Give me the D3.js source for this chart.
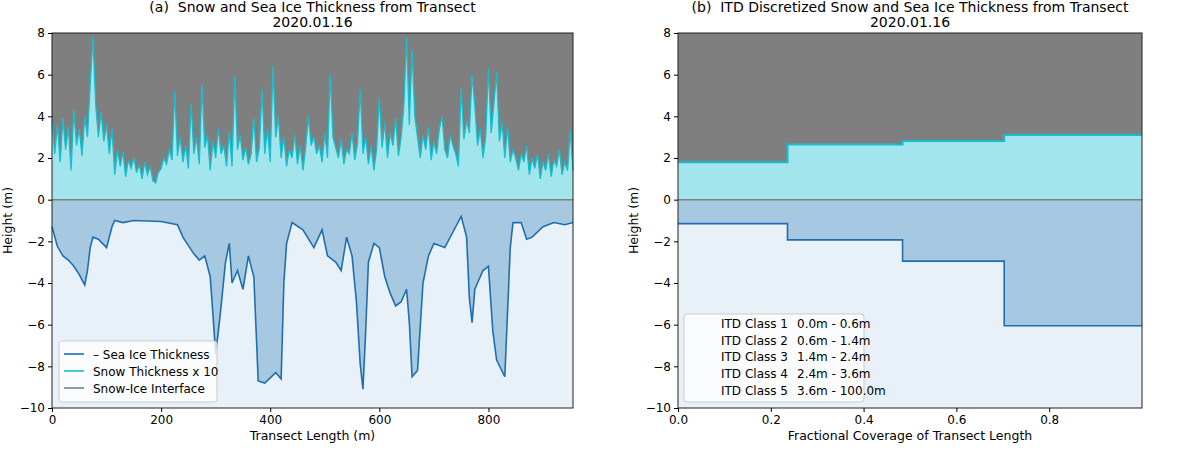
<!DOCTYPE html>
<html><head><meta charset="utf-8">
<script src="https://cdn.jsdelivr.net/npm/d3@7"></script>
<style>body{margin:0;background:#fff;font-family:"DejaVu Sans",sans-serif;}</style>
</head><body><svg id="c" width="1200" height="452"></svg>
<script>
// ---- Data ----
const iceX = [0,10,20,30,40,50,60,65,70,75,85,100,110,115,130,150,200,230,240,260,270,280,290,295,300,305,310,318,325,330,340,350,360,370,378,390,410,420,425,430,440,460,480,495,505,520,530,540,550,558,565,570,575,580,590,600,610,620,630,640,650,655,660,670,680,690,700,720,740,750,760,765,770,775,790,800,808,815,830,840,845,860,870,880,900,920,940,955];
const iceY = [-1.3,-2.25,-2.7,-2.9,-3.2,-3.6,-4.1,-3.4,-2.3,-1.8,-1.9,-2.3,-1.3,-1.0,-1.1,-1.0,-1.05,-1.2,-1.8,-2.6,-2.9,-2.7,-3.7,-5.5,-7.4,-6.3,-5.1,-3.0,-2.1,-4.0,-3.4,-4.3,-2.7,-3.7,-8.7,-8.8,-8.3,-8.6,-4.0,-2.1,-1.1,-1.45,-2.3,-1.45,-2.7,-3.0,-3.4,-1.8,-2.7,-4.9,-7.9,-9.1,-6.3,-3.0,-2.1,-2.3,-3.7,-4.5,-5.1,-4.9,-4.3,-5.9,-8.5,-8.2,-4.0,-2.7,-2.1,-2.3,-1.3,-0.8,-1.8,-4.7,-5.9,-4.3,-3.4,-3.2,-6.3,-7.7,-8.5,-2.3,-1.1,-1.1,-1.9,-1.8,-1.3,-1.1,-1.2,-1.1];
// snow thickness x10, every 5 m from 0 to 955
const snowY = [
3.8,2.2,3.6,1.8,3.9,2.4,3.5,1.4,4.3,2.6,
3.4,2.1,4.0,3.0,5.5,7.8,4.6,3.0,4.2,2.8,
3.6,2.2,3.4,1.2,2.4,1.6,2.3,1.1,1.9,1.5,
2.0,1.3,1.7,1.0,1.8,1.2,1.6,0.9,0.8,1.3,
1.5,2.0,1.7,2.4,1.9,5.2,2.1,3.0,1.8,2.6,
1.5,4.6,2.2,3.0,1.7,5.5,2.5,3.1,1.4,2.8,
2.0,3.4,2.2,2.6,1.6,3.3,1.6,5.9,2.4,3.1,
1.9,2.5,1.7,2.2,3.9,1.8,2.5,5.3,2.2,3.4,
1.8,6.4,3.0,4.0,2.0,3.0,1.6,2.4,2.0,3.1,
1.7,2.6,1.4,2.5,4.0,2.6,3.0,2.2,2.6,1.8,
3.2,2.0,6.0,3.0,2.5,2.0,2.9,1.7,2.4,2.2,
3.2,1.9,2.7,5.3,2.2,3.0,1.7,2.6,1.4,2.4,
4.9,2.5,3.7,2.0,3.2,2.6,3.9,2.1,3.0,4.5,
7.8,3.6,7.2,4.0,3.0,2.0,3.1,2.4,3.5,1.9,
2.8,2.2,3.4,4.0,2.4,2.0,3.1,2.6,2.2,1.6,
5.4,2.9,3.8,3.2,6.0,4.5,2.6,3.4,2.0,3.0,
6.3,3.2,4.6,6.1,2.8,3.7,2.0,3.5,1.8,2.4,
2.0,1.4,2.2,1.8,2.6,1.2,2.0,1.5,2.2,1.0,
1.8,1.4,2.2,1.1,1.9,1.6,2.4,1.2,1.8,1.4,
3.3,1.4];
const snowX = snowY.map((d,i)=>i*5);
const fracX = [0,0.236,0.484,0.703,1.0];
const itdIce = [-1.15,-1.93,-2.95,-6.05];
const itdSnow = [1.8,2.65,2.82,3.1];
const itdClass = ["ITD Class 1","ITD Class 2","ITD Class 3","ITD Class 4","ITD Class 5"];
const itdRange = ["0.0m - 0.6m","0.6m - 1.4m","1.4m - 2.4m","2.4m - 3.6m","3.6m - 100.0m"];
const yTicks = [-10,-8,-6,-4,-2,0,2,4,6,8];

const svg = d3.select("#c");
const C = {sky:"#7f7f7f", snowF:"#a3e5ec", snowL:"#17becf", iceF:"#a6c8e1", iceL:"#1f6fb0", water:"#e8f0f8", iface:"#808080"};
const yTop=33, yBot=408;
const y = d3.scaleLinear().domain([-10,8]).range([yBot,yTop]);

function panel(x, xs, ys, xsS, ysS, curve, opts){
  const g = svg.append("g");
  const x0=x.range()[0], x1=x.range()[1];
  g.append("rect").attr("x",x0).attr("y",yTop).attr("width",x1-x0).attr("height",yBot-yTop).attr("fill",C.sky);
  g.append("rect").attr("x",x0).attr("y",y(0)).attr("width",x1-x0).attr("height",yBot-y(0)).attr("fill",C.water);
  const ia = d3.area().x((d,i)=>x(xs[i])).y0(y(0)).y1((d,i)=>y(ys[i])).curve(curve);
  const sa = d3.area().x((d,i)=>x(xsS[i])).y0(y(0)).y1((d,i)=>y(ysS[i])).curve(curve);
  g.append("path").attr("d",sa(ysS)).attr("fill",C.snowF);
  g.append("path").attr("d",ia(ys)).attr("fill",C.iceF);
  const il = d3.line().x((d,i)=>x(xs[i])).y((d,i)=>y(ys[i])).curve(curve);
  const sl = d3.line().x((d,i)=>x(xsS[i])).y((d,i)=>y(ysS[i])).curve(curve);
  g.append("path").attr("d",sl(ysS)).attr("fill","none").attr("stroke",C.snowL).attr("stroke-width",opts.sw);
  g.append("path").attr("d",il(ys)).attr("fill","none").attr("stroke",C.iceL).attr("stroke-width",1.6);
  g.append("line").attr("x1",x0).attr("x2",x1).attr("y1",y(0)).attr("y2",y(0)).attr("stroke",C.iface).attr("stroke-width",1.5);
  g.append("rect").attr("x",x0).attr("y",yTop).attr("width",x1-x0).attr("height",yBot-yTop).attr("fill","none").attr("stroke","#222").attr("stroke-width",1);
  const ya = g.append("g").attr("transform",`translate(${x0},0)`).call(d3.axisLeft(y).tickValues(yTicks).tickSize(4).tickFormat(d=>d<0?"\u2212"+Math.abs(d):d));
  const xa = g.append("g").attr("transform",`translate(0,${yBot})`).call(d3.axisBottom(x).tickValues(opts.xt).tickSize(4).tickFormat(opts.xf));
  [ya,xa].forEach(a=>{a.select(".domain").remove();a.selectAll("text").attr("font-size",12).attr("font-family","DejaVu Sans").attr("fill","#000");a.selectAll("line").attr("stroke","#000");});
  const cx=(x0+x1)/2;
  g.append("text").attr("x",cx).attr("y",12).attr("text-anchor","middle").attr("font-size",14).attr("xml:space","preserve").text(opts.title);
  g.append("text").attr("x",cx).attr("y",27).attr("text-anchor","middle").attr("font-size",14).text("2020.01.16");
  g.append("text").attr("x",cx).attr("y",440).attr("text-anchor","middle").attr("font-size",12.5).text(opts.xlabel);
  g.append("text").attr("transform",`translate(${x0-40},${(yTop+yBot)/2}) rotate(-90)`).attr("text-anchor","middle").attr("font-size",12.5).text("Height (m)");
  return g;
}

// Left panel
const xL = d3.scaleLinear().domain([0,955]).range([52,573]);
const gL = panel(xL, iceX, iceY, snowX, snowY, d3.curveLinear, {sw:1.3,xt:[0,200,400,600,800],xf:d=>d,title:"(a)  Snow and Sea Ice Thickness from Transect",xlabel:"Transect Length (m)"});
const lg = gL.append("g").attr("transform","translate(59,341)");
lg.append("rect").attr("width",158).attr("height",61).attr("rx",3).attr("fill","#fff").attr("fill-opacity",0.8).attr("stroke","#ccc");
[["\u2013 Sea Ice Thickness",C.iceL],["Snow Thickness x 10",C.snowL],["Snow-Ice Interface",C.iface]].forEach((d,i)=>{
  lg.append("line").attr("x1",5).attr("x2",25).attr("y1",13+i*17).attr("y2",13+i*17).attr("stroke",d[1]).attr("stroke-width",1.6);
  lg.append("text").attr("x",34).attr("y",17.5+i*17).attr("font-size",12).text(d[0]);
});

// Right panel (step)
const xR = d3.scaleLinear().domain([0,1.0]).range([678,1142]);
const stX = fracX, stI = itdIce.concat([itdIce[itdIce.length-1]]), stS = itdSnow.concat([itdSnow[itdSnow.length-1]]);
const gR = panel(xR, stX, stI, stX, stS, d3.curveStepAfter, {sw:2,xt:[0,0.2,0.4,0.6,0.8],xf:d3.format(".1f"),title:"(b)  ITD Discretized Snow and Sea Ice Thickness from Transect",xlabel:"Fractional Coverage of Transect Length"});
const lr = gR.append("g").attr("transform","translate(684,314)");
lr.append("rect").attr("width",180).attr("height",88).attr("rx",3).attr("fill","#fff").attr("fill-opacity",0.8).attr("stroke","#ccc");
itdClass.forEach((t,i)=>{
  lr.append("text").attr("x",37).attr("y",14+i*16.7).attr("font-size",12).text(t);
  lr.append("text").attr("x",113).attr("y",14+i*16.7).attr("font-size",12).text(itdRange[i]);
});
</script></body></html>
